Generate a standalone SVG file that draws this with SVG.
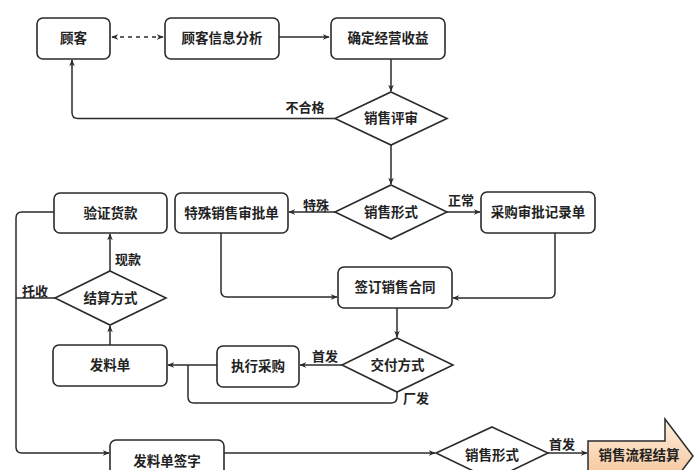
<svg xmlns="http://www.w3.org/2000/svg" width="700" height="470" viewBox="0 0 700 470">
<defs>
<style>
.box{fill:#fff;stroke:#2b2b2b;stroke-width:1.6}
.dia{fill:#fff;stroke:#2b2b2b;stroke-width:1.6}
.c{fill:none;stroke:#2b2b2b;stroke-width:1.5}
.t{font-family:"Liberation Sans","Noto Sans CJK SC",sans-serif;font-size:13.5px;font-weight:bold;fill:#222;text-anchor:middle;dominant-baseline:central}
.l{font-family:"Liberation Sans","Noto Sans CJK SC",sans-serif;font-size:13px;font-weight:bold;fill:#222;text-anchor:middle;dominant-baseline:central}
</style>
<marker id="ah" viewBox="0 0 10 10" refX="9" refY="5" markerWidth="7" markerHeight="7" orient="auto-start-reverse" markerUnits="userSpaceOnUse">
<path d="M0,1 L10,5 L0,9 L3,5 Z" fill="#2b2b2b"/>
</marker>
<linearGradient id="pg" x1="0" y1="0" x2="0" y2="1">
<stop offset="0" stop-color="#fdeedd"/>
<stop offset="1" stop-color="#f4bd8c"/>
</linearGradient>
</defs>
<rect width="700" height="470" fill="#fff"/>

<g id="connectors">
<line class="c" x1="112" y1="37" x2="163" y2="37" stroke-dasharray="4,4" marker-start="url(#ah)" marker-end="url(#ah)"/>
<line class="c" x1="279" y1="37" x2="329" y2="37" marker-end="url(#ah)"/>
<line class="c" x1="391" y1="59" x2="391" y2="91" marker-end="url(#ah)"/>
<path class="c" d="M335,118.5 H78 Q72,118.5 72,112.5 V60" marker-end="url(#ah)"/>
<line class="c" x1="391" y1="145" x2="391" y2="184" marker-end="url(#ah)"/>
<line class="c" x1="335" y1="212" x2="289" y2="212" marker-end="url(#ah)"/>
<line class="c" x1="447" y1="212" x2="480" y2="212" marker-end="url(#ah)"/>
<path class="c" d="M221,233 V291 Q221,297 227,297 H337" marker-end="url(#ah)"/>
<path class="c" d="M555,233 V292 Q555,298 549,298 H453" marker-end="url(#ah)"/>
<line class="c" x1="397" y1="308" x2="397" y2="337" marker-end="url(#ah)"/>
<line class="c" x1="342" y1="365" x2="300" y2="365" marker-end="url(#ah)"/>
<line class="c" x1="217" y1="365" x2="168" y2="365" marker-end="url(#ah)"/>
<path class="c" d="M397,392 V397 Q397,403 391,403 H194 Q188,403 188,397 V365"/>
<line class="c" x1="110" y1="345" x2="110" y2="326" marker-end="url(#ah)"/>
<line class="c" x1="110" y1="271" x2="110" y2="234" marker-end="url(#ah)"/>
<path class="c" d="M54,212 H22 Q16,212 16,218 V447 Q16,453 22,453 H109" marker-end="url(#ah)"/>
<line class="c" x1="55" y1="298" x2="16" y2="298"/>
<line class="c" x1="224" y1="453" x2="435" y2="453" marker-end="url(#ah)"/>
<line class="c" x1="548" y1="453" x2="587" y2="453" marker-end="url(#ah)"/>
<text class="l" x="305" y="107">不合格</text>
<text class="l" x="316" y="205">特殊</text>
<text class="l" x="461" y="200">正常</text>
<text class="l" x="128" y="259">现款</text>
<text class="l" x="35" y="291">托收</text>
<text class="l" x="325" y="356">首发</text>
<text class="l" x="416" y="398">厂发</text>
<text class="l" x="562" y="444">首发</text>
</g>

<g id="n-guke"><rect class="box" x="37" y="18" width="73" height="41" rx="6"/><text class="t" x="73.5" y="38.5">顾客</text></g>
<g id="n-xinxi"><rect class="box" x="165" y="18" width="114" height="41" rx="6"/><text class="t" x="222" y="38.5">顾客信息分析</text></g>
<g id="n-shouyi"><rect class="box" x="331" y="18" width="114" height="41" rx="6"/><text class="t" x="388" y="38.5">确定经营收益</text></g>
<g id="n-pingshen"><polygon class="dia" points="391,92 447,118.5 391,145 335,118.5"/><text class="t" x="391" y="118.5">销售评审</text></g>
<g id="n-xingshi1"><polygon class="dia" points="391,185 447,212 391,239 335,212"/><text class="t" x="391" y="212">销售形式</text></g>
<g id="n-teshu"><rect class="box" x="175" y="193" width="113" height="40" rx="6"/><text class="t" x="231.5" y="213">特殊销售审批单</text></g>
<g id="n-caigou"><rect class="box" x="481" y="192" width="114" height="41" rx="6"/><text class="t" x="538" y="212.5">采购审批记录单</text></g>
<g id="n-hetong"><rect class="box" x="338" y="267" width="114" height="41" rx="6"/><text class="t" x="395" y="287.5">签订销售合同</text></g>
<g id="n-jiaofu"><polygon class="dia" points="397,338 453,365 397,392 342,365"/><text class="t" x="397.5" y="365">交付方式</text></g>
<g id="n-zhixing"><rect class="box" x="217" y="346" width="82" height="41" rx="6"/><text class="t" x="258" y="366.5">执行采购</text></g>
<g id="n-faliao"><rect class="box" x="53" y="345" width="114" height="41" rx="6"/><text class="t" x="110" y="365.5">发料单</text></g>
<g id="n-jiesuan"><polygon class="dia" points="110,271 166,298 110,325 55,298"/><text class="t" x="110.5" y="298">结算方式</text></g>
<g id="n-yanzheng"><rect class="box" x="54" y="193" width="113" height="40" rx="6"/><text class="t" x="110.5" y="213">验证货款</text></g>
<g id="n-qianzi"><rect class="box" x="110" y="440" width="114" height="45" rx="6"/><text class="t" x="167" y="461">发料单签字</text></g>
<g id="n-xingshi2"><polygon class="dia" points="492,427 548,453 492,480 436,453"/><text class="t" x="492" y="455">销售形式</text></g>
<g id="n-end"><path d="M588,441 H665 V419 L693,456 L665,493 V471 H588 Z" fill="url(#pg)" stroke="#2b2b2b" stroke-width="1.5"/><text class="t" x="639" y="455">销售流程结算</text></g>
</svg>
